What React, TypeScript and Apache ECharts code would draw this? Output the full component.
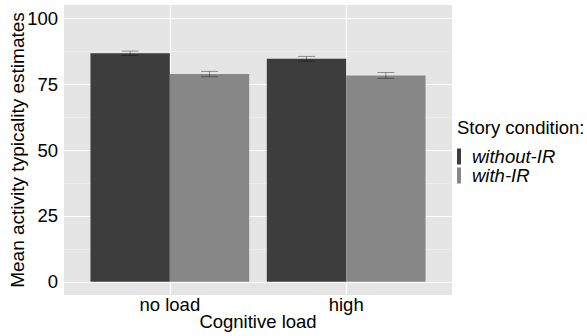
import React, { useEffect, useRef } from "react";
import * as echarts from "echarts";

const categories = ["no load", "high"];
const conditions = ["without-IR", "with-IR"];
const withoutIR = [86.7, 84.6];
const withIR = [78.8, 78.3];
const withoutIRSe = [0.8, 0.9];
const withIRSe = [1.0, 1.1];
const yTicks = [0, 25, 50, 75, 100];
const yMinor = [12.5, 37.5, 62.5, 87.5];

const colors = ["#3d3d3d", "#878787"];
const FONT = "Liberation Sans, Arial, sans-serif";
const FS = 18.5;

export default function App() {
  const ref = useRef<HTMLDivElement>(null);
  useEffect(() => {
    if (!ref.current) return;
    const chart = echarts.init(ref.current, null, { renderer: "svg" });
    const dodge = 0.225;
    const errData: number[][] = [];
    categories.forEach((_, i) => {
      errData.push([i + 1 - dodge, withoutIR[i] - withoutIRSe[i], withoutIR[i] + withoutIRSe[i]]);
      errData.push([i + 1 + dodge, withIR[i] - withIRSe[i], withIR[i] + withIRSe[i]]);
    });
    const gridLines: any[] = [];
    yMinor.forEach((v) => gridLines.push({ yAxis: v, lineStyle: { color: "#f2f2f2", width: 0.6, type: "solid" } }));
    yTicks.forEach((v) => gridLines.push({ yAxis: v, lineStyle: { color: "#ffffff", width: 1.1, type: "solid" } }));
    categories.forEach((_, i) => gridLines.push({ xAxis: i + 1, lineStyle: { color: "#ffffff", width: 1.1, type: "solid" } }));

    chart.setOption({
      animation: false,
      grid: {
        left: 64,
        right: 135,
        top: 5,
        bottom: 41,
        show: true,
        backgroundColor: "#e5e5e5",
        borderWidth: 0,
        containLabel: false,
        outerBoundsMode: "none",
      },
      xAxis: {
        type: "value",
        min: 0.4,
        max: 2.6,
        splitLine: { show: false },
        axisLine: { show: false },
        axisTick: { show: false },
        axisLabel: {
          customValues: [1, 2],
          formatter: (v: number) => categories[Math.round(v) - 1] ?? "",
          color: "#000",
          fontSize: FS,
          fontFamily: FONT,
          margin: 0,
        },
        name: "Cognitive load",
        nameLocation: "middle",
        nameGap: 17,
        nameMoveOverlap: false,
        nameTextStyle: { color: "#000", fontSize: FS, fontFamily: FONT },
      },
      yAxis: {
        type: "value",
        min: -5,
        max: 105,
        splitLine: { show: false },
        axisLine: { show: false },
        axisTick: { show: false },
        axisLabel: {
          customValues: yTicks,
          color: "#000",
          fontSize: FS,
          fontFamily: FONT,
          margin: 6,
        },
        name: "Mean activity typicality estimates",
        nameLocation: "middle",
        nameGap: 37,
        nameMoveOverlap: false,
        nameTextStyle: { color: "#000", fontSize: 19, fontFamily: FONT },
      },
      legend: {
        data: conditions,
        orient: "vertical",
        left: 457,
        top: 147,
        itemWidth: 4,
        itemHeight: 16,
        itemGap: 0,
        icon: "rect",
        textStyle: {
          fontSize: FS,
          lineHeight: 16,
          fontStyle: "italic",
          fontFamily: FONT,
          color: "#000",
          padding: [0, 0, 0, 6],
        },
        padding: 0,
      },
      graphic: [
        {
          type: "text",
          left: 457,
          top: 118,
          style: { text: "Story condition:", fontSize: FS, fontFamily: FONT, fill: "#000" },
        },
      ],
      series: [
        {
          type: "line",
          data: [],
          z: 0,
          silent: true,
          markLine: { silent: true, symbol: "none", label: { show: false }, data: gridLines, z: 0, animation: false },
        },
        {
          name: conditions[0],
          type: "bar",
          data: withoutIR.map((v, i) => [i + 1, v]),
          barWidth: "45%",
          barGap: "0%",
          itemStyle: { color: colors[0] },
          z: 2,
        },
        {
          name: conditions[1],
          type: "bar",
          data: withIR.map((v, i) => [i + 1, v]),
          barWidth: "45%",
          barGap: "0%",
          itemStyle: { color: colors[1] },
          z: 2,
        },
        {
          type: "custom",
          z: 3,
          data: errData,
          renderItem: (params: any, api: any) => {
            const x = api.value(0);
            const lo = api.coord([x, api.value(1)]);
            const hi = api.coord([x, api.value(2)]);
            const half = 8.5;
            const st = { stroke: "rgba(0,0,0,0.38)", lineWidth: 1 };
            return {
              type: "group",
              children: [
                { type: "line", shape: { x1: lo[0], y1: lo[1], x2: hi[0], y2: hi[1] }, style: st },
                { type: "line", shape: { x1: lo[0] - half, y1: lo[1], x2: lo[0] + half, y2: lo[1] }, style: st },
                { type: "line", shape: { x1: hi[0] - half, y1: hi[1], x2: hi[0] + half, y2: hi[1] }, style: st },
              ],
            };
          },
        },
      ],
    });
    return () => chart.dispose();
  }, []);
  return (
    <div
      ref={ref}
      style={{ position: "absolute", left: 0, top: 0, width: 587, height: 336, background: "#fff" }}
    />
  );
}
